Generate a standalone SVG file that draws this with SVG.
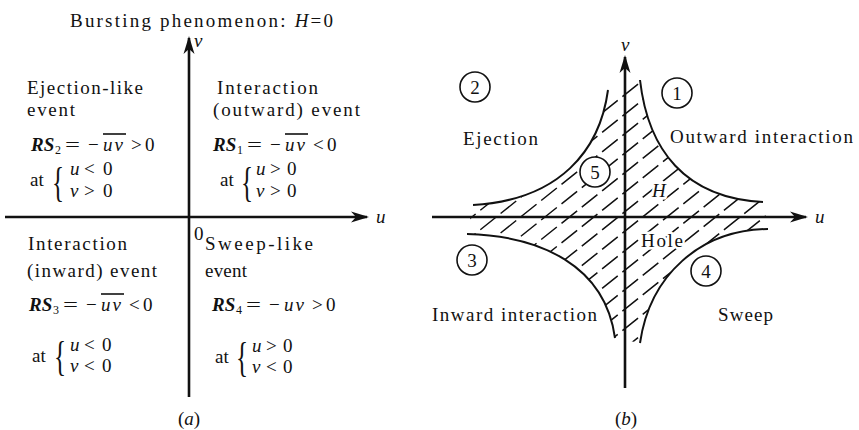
<svg xmlns="http://www.w3.org/2000/svg" width="859" height="430" viewBox="0 0 859 430">
<style>
text{font-family:"Liberation Serif","Times New Roman",serif;font-size:19px;fill:#111}
.i{font-style:italic}
.uv{font-style:italic;letter-spacing:2px}
.b{font-style:italic;font-weight:bold}
.sub{font-size:12px}
.ax{stroke:#111;stroke-width:2.6;fill:none}
.cv{stroke:#111;stroke-width:2;fill:none}
.ht{stroke:#111;stroke-width:1.5;stroke-dasharray:20 6;fill:none}
.ov{stroke:#111;stroke-width:1.6}
.ci{stroke:#111;stroke-width:1.6;fill:#fff}
.br{font-size:42px}
.halo{stroke:#fff;stroke-width:5px;paint-order:stroke;stroke-linejoin:round}
</style>
<defs>
<marker id="arr" viewBox="0 0 18 12" refX="16" refY="6" markerWidth="18" markerHeight="12" markerUnits="userSpaceOnUse" orient="auto">
<path d="M0,0.5 L18,6 L0,11.5 L5,6 Z" fill="#111"/>
</marker>
<clipPath id="hole">
<path d="M640,80 C648,150 685,198 763,202 L768,229 C700,230 650,275 640,343 L615,338 C605,265 540,236 467,234 L473,205 C560,200 600,150 608,90 Z"/>
</clipPath>
</defs>

<!-- Panel (a) -->
<g id="panel-a">
<text x="70" y="27" textLength="263">Bursting phenomenon: <tspan class="i">H</tspan>=0</text>
<g id="a-axes">
<line class="ax" x1="189" y1="397" x2="189" y2="38" marker-end="url(#arr)"/>
<line class="ax" x1="5" y1="217" x2="367" y2="217" marker-end="url(#arr)"/>
<text class="i" x="194" y="47">v</text>
<text class="i" x="376" y="223">u</text>
<text x="194" y="240">0</text>
</g>

<g id="q2-ejection-like">
<text x="27" y="94" textLength="116">Ejection-like</text>
<text x="27" y="116" textLength="48">event</text>
<text class="b" x="31" y="151">RS</text><text class="sub" x="55" y="154">2</text>
<text transform="translate(65,151) scale(1.4,1)">=</text><text x="88" y="151">−</text>
<text class="uv" x="103" y="151">uv</text>
<line class="ov" x1="103" y1="134" x2="126" y2="134"/>
<text x="131" y="151">&gt;</text><text x="145" y="151">0</text>
<text x="30" y="186">at</text>
<text class="br" transform="translate(52,195.6) scale(0.6,1)">{</text>
<text x="70" y="175"><tspan class="i">u</tspan><tspan x="84">&lt;</tspan><tspan x="103">0</tspan></text>
<text x="70" y="197"><tspan class="i">v</tspan><tspan x="84">&gt;</tspan><tspan x="103">0</tspan></text>
</g>

<g id="q1-interaction-outward">
<text x="217" y="94" textLength="101">Interaction</text>
<text x="213" y="116" textLength="147">(outward) event</text>
<text class="b" x="213" y="151">RS</text><text class="sub" x="237" y="154">1</text>
<text transform="translate(247,151) scale(1.4,1)">=</text><text x="270" y="151">−</text>
<text class="uv" x="285" y="151">uv</text>
<line class="ov" x1="285" y1="134" x2="308" y2="134"/>
<text x="313" y="151">&lt;</text><text x="327" y="151">0</text>
<text x="220" y="186">at</text>
<text class="br" transform="translate(241,195.6) scale(0.6,1)">{</text>
<text x="256" y="175"><tspan class="i">u</tspan><tspan x="270">&gt;</tspan><tspan x="287">0</tspan></text>
<text x="256" y="197"><tspan class="i">v</tspan><tspan x="270">&gt;</tspan><tspan x="287">0</tspan></text>
</g>

<g id="q3-interaction-inward">
<text x="28" y="250" textLength="99">Interaction</text>
<text x="27" y="277" textLength="130">(inward) event</text>
<text class="b" x="29" y="311">RS</text><text class="sub" x="53" y="314">3</text>
<text transform="translate(63,311) scale(1.4,1)">=</text><text x="86" y="311">−</text>
<text class="uv" x="101" y="311">uv</text>
<line class="ov" x1="101" y1="294" x2="124" y2="294"/>
<text x="129" y="311">&lt;</text><text x="143" y="311">0</text>
<text x="32" y="362">at</text>
<text class="br" transform="translate(54,369.6) scale(0.6,1)">{</text>
<text x="70" y="351"><tspan class="i">u</tspan><tspan x="84">&lt;</tspan><tspan x="102">0</tspan></text>
<text x="70" y="372"><tspan class="i">v</tspan><tspan x="84">&lt;</tspan><tspan x="102">0</tspan></text>
</g>

<g id="q4-sweep-like">
<text x="205" y="250" textLength="108">Sweep-like</text>
<text x="205" y="277" textLength="42">event</text>
<text class="b" x="212" y="311">RS</text><text class="sub" x="236" y="314">4</text>
<text transform="translate(246,311) scale(1.4,1)">=</text><text x="269" y="311">−</text>
<text class="uv" x="284" y="311">uv</text>
<text x="312" y="311">&gt;</text><text x="326" y="311">0</text>
<text x="215" y="363">at</text>
<text class="br" transform="translate(236,370.6) scale(0.6,1)">{</text>
<text x="252" y="352"><tspan class="i">u</tspan><tspan x="266">&gt;</tspan><tspan x="283">0</tspan></text>
<text x="252" y="373"><tspan class="i">v</tspan><tspan x="266">&lt;</tspan><tspan x="283">0</tspan></text>
</g>
<text x="178" y="425">(<tspan class="i">a</tspan>)</text>
</g>

<!-- Panel (b) -->
<g id="panel-b">
<g id="hatch" clip-path="url(#hole)">
<line class="ht" x1="460" y1="207" x2="780" y2="-49"/>
<line class="ht" x1="460" y1="226.5" x2="780" y2="-29.5"/>
<line class="ht" x1="460" y1="246" x2="780" y2="-10"/>
<line class="ht" x1="460" y1="265.5" x2="780" y2="9.5"/>
<line class="ht" x1="460" y1="285" x2="780" y2="29"/>
<line class="ht" x1="460" y1="304.5" x2="780" y2="48.5"/>
<line class="ht" x1="460" y1="324" x2="780" y2="68"/>
<line class="ht" x1="460" y1="343.5" x2="780" y2="87.5"/>
<line class="ht" x1="460" y1="363" x2="780" y2="107"/>
<line class="ht" x1="460" y1="382.5" x2="780" y2="126.5"/>
<line class="ht" x1="460" y1="402" x2="780" y2="146"/>
<line class="ht" x1="460" y1="421.5" x2="780" y2="165.5"/>
<line class="ht" x1="460" y1="441" x2="780" y2="185"/>
<line class="ht" x1="460" y1="460.5" x2="780" y2="204.5"/>
<line class="ht" x1="460" y1="480" x2="780" y2="224"/>
</g>
<g id="curves">
<path class="cv" d="M640,80 C648,150 685,198 763,202"/>
<path class="cv" d="M608,90 C600,150 560,200 473,205"/>
<path class="cv" d="M467,234 C540,236 605,265 615,338"/>
<path class="cv" d="M768,229 C700,230 650,275 640,343"/>
</g>
<g id="b-axes">
<line class="ax" x1="625" y1="388" x2="625" y2="57" marker-end="url(#arr)"/>
<line class="ax" x1="432" y1="217" x2="806" y2="217" marker-end="url(#arr)"/>
<text class="i" x="621" y="51">v</text>
<text class="i" x="815" y="223">u</text>
</g>
<g id="region-1"><circle class="ci" cx="677" cy="93" r="15"/><text x="677" y="99.5" text-anchor="middle">1</text>
<text x="670" y="143" textLength="183">Outward interaction</text></g>
<g id="region-2"><circle class="ci" cx="475" cy="87" r="15"/><text x="475" y="93.5" text-anchor="middle">2</text>
<text x="463" y="145" textLength="75">Ejection</text></g>
<g id="region-3"><circle class="ci" cx="472" cy="260" r="15"/><text x="472" y="266.5" text-anchor="middle">3</text>
<text x="432" y="321" textLength="165">Inward interaction</text></g>
<g id="region-4"><circle class="ci" cx="706" cy="271" r="15"/><text x="706" y="277.5" text-anchor="middle">4</text>
<text x="718" y="321" textLength="55">Sweep</text></g>
<g id="region-5"><circle class="ci" cx="595" cy="172" r="15"/><text x="595" y="178.5" text-anchor="middle">5</text></g>
<text class="i halo" x="652" y="197">H</text>
<text class="halo" x="641" y="247" textLength="42">Hole</text>
<text x="615" y="425">(<tspan class="i">b</tspan>)</text>
</g>
</svg>
